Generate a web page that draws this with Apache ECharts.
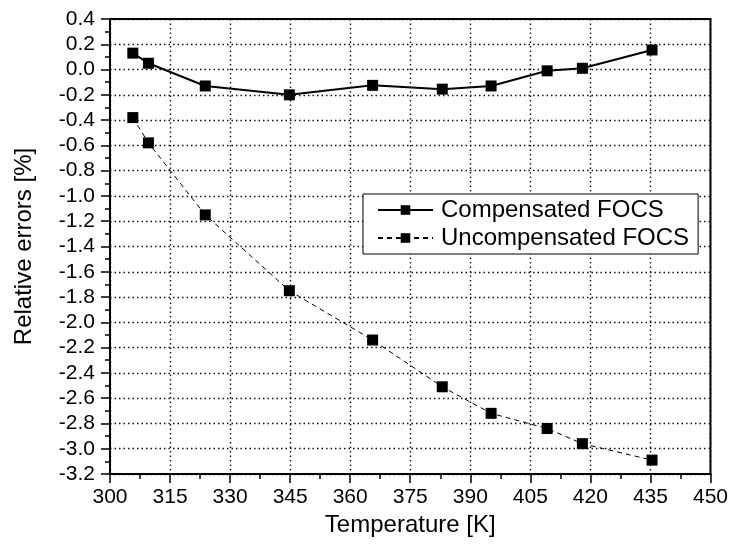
<!DOCTYPE html>
<html>
<head>
<meta charset="utf-8">
<script src="https://cdn.jsdelivr.net/npm/echarts@6/dist/echarts.min.js"></script>
<style>html,body{margin:0;padding:0;background:#fff;}#main{width:731px;height:548px;}</style>
</head>
<body>
<div id="main"></div>
<script>
const temperatures = [305.7, 309.6, 323.8, 344.8, 365.6, 383.0, 395.2, 409.2, 418.0, 435.4];
const compensated = [0.13, 0.05, -0.13, -0.20, -0.125, -0.155, -0.13, -0.01, 0.01, 0.155];
const uncompensated = [-0.38, -0.58, -1.15, -1.75, -2.14, -2.51, -2.72, -2.84, -2.96, -3.09];
const seriesNames = ['Compensated FOCS', 'Uncompensated FOCS'];
const xAxisTitle = 'Temperature [K]';
const yAxisTitle = 'Relative errors [%]';

const FONT = '"Liberation Sans", Arial, sans-serif';
const pairs = (ys) => temperatures.map((t, i) => [t, ys[i]]);
const gridLine = { show: true, lineStyle: { color: '#111', width: 1.4, type: [1.5, 3] } };

const chart = echarts.init(document.getElementById('main'), null, { renderer: 'canvas' });
chart.setOption({
  animation: false,
  backgroundColor: '#fff',
  grid: { left: 110, right: 17, top: 19, bottom: 74, show: true, borderColor: '#000', borderWidth: 2, backgroundColor: 'transparent' },
  xAxis: {
    type: 'value', min: 300, max: 450, interval: 15,
    name: xAxisTitle, nameLocation: 'middle', nameGap: 39,
    nameTextStyle: { fontFamily: FONT, fontSize: 24, color: '#000' },
    axisLine: { show: true, onZero: false, lineStyle: { color: '#000', width: 2 } },
    axisTick: { show: true, length: 9, lineStyle: { color: '#000', width: 1.5 } },
    minorTick: { show: true, splitNumber: 2, length: 5, lineStyle: { color: '#000', width: 1.5 } },
    axisLabel: { fontFamily: FONT, fontSize: 21, color: '#000', margin: 13 },
    splitLine: gridLine
  },
  yAxis: {
    type: 'value', min: -3.2, max: 0.4, interval: 0.2,
    name: yAxisTitle, nameLocation: 'middle', nameGap: 74, nameRotate: 90,
    nameTextStyle: { fontFamily: FONT, fontSize: 24, color: '#000' },
    axisLine: { show: true, onZero: false, lineStyle: { color: '#000', width: 2 } },
    axisTick: { show: true, length: 9, lineStyle: { color: '#000', width: 1.5 } },
    minorTick: { show: true, splitNumber: 2, length: 5, lineStyle: { color: '#000', width: 1.5 } },
    axisLabel: { fontFamily: FONT, fontSize: 21, color: '#000', margin: 15,
      formatter: (v) => (Math.abs(v) < 1e-9 ? 0 : v).toFixed(1) },
    splitLine: gridLine
  },
  legend: {
    orient: 'vertical', left: 363, top: 194,
    padding: [4, 9, 4, 14], itemGap: 4, itemWidth: 55, itemHeight: 12,
    backgroundColor: '#fff', borderColor: '#000', borderWidth: 1,
    textStyle: { fontFamily: FONT, fontSize: 24, color: '#000', lineHeight: 24, padding: [0, 0, 0, 3] },
    data: seriesNames
  },
  series: [
    {
      name: seriesNames[0], type: 'line', data: pairs(compensated),
      symbol: 'rect', symbolSize: 11,
      itemStyle: { color: '#000' },
      lineStyle: { color: '#000', width: 2 }, z: 3
    },
    {
      name: seriesNames[1], type: 'line', data: pairs(uncompensated),
      symbol: 'rect', symbolSize: 11,
      itemStyle: { color: '#000' },
      lineStyle: { color: '#000', width: 1, type: [5, 4] }, z: 3
    }
  ]
});
</script>
</body>
</html>
